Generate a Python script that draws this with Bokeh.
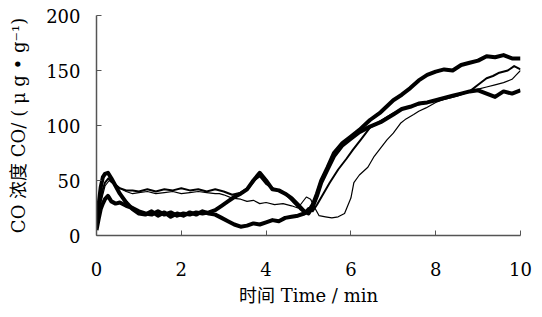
from bokeh.plotting import figure
from bokeh.models import Range1d, FixedTicker
from bokeh.embed import file_html
from bokeh.resources import INLINE

# ---- data (time in min, CO concentration in ug/g) ----
t1 = [0, 0.05, 0.1, 0.15, 0.2, 0.27, 0.35, 0.45, 0.55, 0.7, 0.85, 1.0, 1.15, 1.3, 1.45, 1.6, 1.75, 1.9, 2.05, 2.2,
      2.35, 2.5, 2.65, 2.8, 2.95, 3.1, 3.25, 3.4, 3.55, 3.7, 3.85, 4.0, 4.15, 4.3, 4.45, 4.6, 4.75, 4.9, 5.0, 5.1,
      5.2, 5.3, 5.45, 5.6, 5.8, 6.0, 6.2, 6.45, 6.7, 7.0, 7.2, 7.4, 7.6, 7.8, 8.0, 8.2, 8.4, 8.6, 8.8, 9.0,
      9.2, 9.4, 9.6, 9.8, 10.0]
v1 = [8, 28, 44, 53, 56, 57, 52, 45, 38, 30, 24, 20, 19, 22, 18, 21, 17, 20, 18, 21,
      19, 22, 20, 19, 16, 13, 10, 8, 9, 11, 10, 12, 14, 13, 16, 17, 18, 20, 22, 28,
      38, 50, 62, 75, 84, 90, 96, 105, 112, 123, 128, 134, 141, 146, 149, 151, 150, 155, 157, 159,
      163, 162, 164, 161, 161]

t2 = [0, 0.05, 0.1, 0.15, 0.2, 0.27, 0.35, 0.45, 0.55, 0.7, 0.85, 1.0, 1.15, 1.3, 1.45, 1.6, 1.75, 1.9, 2.05, 2.2,
      2.35, 2.5, 2.65, 2.8, 2.95, 3.1, 3.25, 3.4, 3.55, 3.7, 3.85, 4.0, 4.15, 4.3, 4.45, 4.6, 4.75, 4.9, 5.0, 5.1,
      5.2, 5.3, 5.45, 5.6, 5.8, 6.0, 6.2, 6.45, 6.7, 7.0, 7.2, 7.4, 7.6, 7.8, 8.0, 8.2, 8.4, 8.6, 8.8, 9.0,
      9.2, 9.4, 9.6, 9.8, 10.0]
v2 = [5, 15, 24, 29, 33, 36, 31, 29, 30, 27, 25, 22, 20, 19, 22, 19, 21, 18, 20, 19,
      21, 20, 21, 23, 27, 31, 35, 38, 42, 50, 57, 50, 42, 41, 38, 34, 28, 22, 20, 26,
      36, 48, 60, 72, 82, 88, 94, 99, 103, 110, 115, 117, 120, 121, 123, 125, 127, 129, 131, 132,
      129, 126, 131, 129, 132]

t3 = [0, 0.05, 0.1, 0.15, 0.2, 0.28, 0.35, 0.45, 0.55, 0.7, 0.85, 1.0, 1.2, 1.4, 1.6, 1.8, 2.0, 2.2, 2.4, 2.6,
      2.8, 3.0, 3.2, 3.4, 3.6, 3.75, 3.85, 4.0, 4.2, 4.35, 4.5, 4.65, 4.8, 4.9, 5.0, 5.1, 5.2, 5.35, 5.5, 5.7,
      5.9, 6.05, 6.23, 6.45, 6.7, 7.0, 7.3, 7.6, 7.9, 8.2, 8.5, 8.8, 9.0, 9.2, 9.35, 9.5, 9.7, 9.85, 10.0]
v3 = [6, 20, 32, 42, 48, 52, 49, 46, 43, 41, 41, 40, 42, 40, 42, 41, 43, 41, 42, 40,
      42, 40, 37, 39, 44, 51, 54, 47, 42, 40, 36, 30, 24, 21, 25, 22, 28, 38, 48, 60,
      70, 78, 87, 98, 104, 111, 116, 119, 122, 124, 127, 131, 137, 143, 145, 148, 150, 154, 151]

t4 = [0, 0.1, 0.2, 0.3, 0.4, 0.55, 0.7, 0.85, 1.0, 1.2, 1.4, 1.6, 1.8, 2.0, 2.2, 2.4, 2.6, 2.8, 2.9, 3.0,
      3.2, 3.4, 3.55, 3.7, 3.85, 4.0, 4.2, 4.4, 4.6, 4.75, 4.85, 4.95, 5.05, 5.15, 5.25, 5.4, 5.55, 5.7, 5.85, 6.0,
      6.07, 6.2, 6.4, 6.55, 6.65, 6.85, 7.0, 7.17, 7.3, 7.48, 7.6, 7.77, 8.0, 8.2, 8.4, 8.6, 8.8, 9.0, 9.2, 9.4,
      9.6, 9.8, 9.9, 10.0]
v4 = [10, 30, 45, 50, 47, 43, 40, 38, 39, 40, 38, 39, 40, 38, 39, 40, 39, 38, 38, 37,
      34, 33, 31, 32, 29, 30, 28, 29, 27, 25, 30, 35, 33, 25, 18, 17, 16, 17, 20, 34,
      48, 55, 62, 72, 77, 87, 93, 102, 106, 110, 113, 116, 121, 124, 127, 129, 130, 133, 135, 137,
      139, 142, 146, 150]

x_ticks = [0, 2, 4, 6, 8, 10]
y_ticks = [0, 50, 100, 150, 200]
x_label = "时间 Time / min"
y_label = "CO 浓度 CO/ ( μ g • g⁻¹)"

FONT = "'DejaVu Serif', 'Noto Sans CJK SC', serif"

p = figure(width=540, height=312, output_backend="svg", toolbar_location=None,
           x_range=Range1d(0, 10), y_range=Range1d(0, 200),
           min_border_left=96, min_border_right=20, min_border_top=15, min_border_bottom=77)
p.outline_line_color = None
p.grid.visible = False
p.background_fill_color = "white"

for ax in (p.xaxis[0], p.yaxis[0]):
    ax.axis_line_color = "#555555"
    ax.axis_line_width = 1.5
    ax.major_tick_line_color = "#555555"
    ax.major_tick_in = 5
    ax.major_tick_out = 0
    ax.minor_tick_line_color = None
    ax.major_label_text_font = FONT
    ax.major_label_text_font_size = "18px"
    ax.major_label_text_color = "black"
    ax.axis_label_text_font = FONT
    ax.axis_label_text_font_size = "18px"
    ax.axis_label_text_font_style = "normal"
    ax.axis_label_text_color = "black"

p.xaxis[0].ticker = FixedTicker(ticks=x_ticks)
p.yaxis[0].ticker = FixedTicker(ticks=y_ticks)
p.xaxis[0].axis_label = x_label
p.yaxis[0].axis_label = y_label
p.xaxis[0].major_label_standoff = 26
p.xaxis[0].axis_label_standoff = 6
p.yaxis[0].major_label_standoff = 16
p.yaxis[0].axis_label_standoff = 14

p.line(t1, v1, line_color="black", line_width=4, line_join="round")
p.line(t2, v2, line_color="black", line_width=4, line_join="round")
p.line(t3, v3, line_color="black", line_width=2, line_join="round")
p.line(t4, v4, line_color="black", line_width=1.2, line_join="round")

open("out.html", "w").write(file_html(p, INLINE))
